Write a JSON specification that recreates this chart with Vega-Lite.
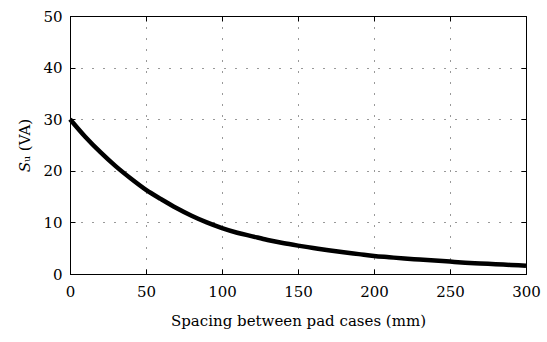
{
  "$schema": "https://vega.github.io/schema/vega-lite/v6.json",
  "width": 456,
  "height": 258,
  "autosize": {"type": "none"},
  "padding": {"left": 70, "top": 16, "right": 21, "bottom": 68},
  "background": "white",
  "config": {
    "view": {"stroke": "black", "strokeWidth": 1},
    "font": "DejaVu Serif",
    "axis": {
      "labelFont": "DejaVu Serif",
      "titleFont": "DejaVu Serif",
      "labelFontSize": 15,
      "titleFontSize": 15,
      "titleFontWeight": "normal",
      "labelColor": "black",
      "titleColor": "black",
      "domainColor": "black",
      "tickColor": "black",
      "tickSize": -5,
      "gridColor": "black",
      "gridDash": [1, 10],
      "gridOpacity": 0.8,
      "gridWidth": 1
    }
  },
  "data": {
    "values": [
      {"s": 0, "p": 30.0}, {"s": 10, "p": 26.6}, {"s": 20, "p": 23.6}, {"s": 30, "p": 20.9},
      {"s": 40, "p": 18.5}, {"s": 50, "p": 16.3}, {"s": 60, "p": 14.5}, {"s": 70, "p": 12.8},
      {"s": 80, "p": 11.3}, {"s": 90, "p": 10.0}, {"s": 100, "p": 8.9}, {"s": 110, "p": 8.0},
      {"s": 120, "p": 7.3}, {"s": 130, "p": 6.6}, {"s": 140, "p": 6.0}, {"s": 150, "p": 5.5},
      {"s": 160, "p": 5.05}, {"s": 170, "p": 4.6}, {"s": 180, "p": 4.2}, {"s": 190, "p": 3.85},
      {"s": 200, "p": 3.5}, {"s": 210, "p": 3.25}, {"s": 220, "p": 3.0}, {"s": 230, "p": 2.8},
      {"s": 240, "p": 2.6}, {"s": 250, "p": 2.4}, {"s": 260, "p": 2.2}, {"s": 270, "p": 2.05},
      {"s": 280, "p": 1.9}, {"s": 290, "p": 1.75}, {"s": 300, "p": 1.6}
    ]
  },
  "layer": [
    {
      "mark": {"type": "line", "color": "black", "strokeWidth": 4.5, "interpolate": "monotone"},
      "encoding": {
        "x": {"field": "s", "type": "quantitative", "scale": {"domain": [0, 300], "nice": false},
          "axis": {"values": [0, 50, 100, 150, 200, 250, 300], "title": "Spacing between pad cases (mm)", "labelPadding": 15, "titlePadding": 14, "labelFlush": false}},
        "y": {"field": "p", "type": "quantitative", "scale": {"domain": [0, 50], "nice": false},
          "axis": {"values": [0, 10, 20, 30, 40, 50], "title": "𝑆ᵤ (VA)", "labelPadding": 13, "titlePadding": 10, "labelFlush": false}}
      }
    },
    {
      "mark": {"type": "line", "color": "black", "strokeWidth": 0, "opacity": 0},
      "encoding": {
        "x": {"field": "s", "type": "quantitative", "scale": {"domain": [0, 300], "nice": false},
          "axis": {"orient": "top", "values": [0, 50, 100, 150, 200, 250, 300], "labels": false, "grid": false, "title": null, "domain": false}},
        "y": {"field": "p", "type": "quantitative", "scale": {"domain": [0, 50], "nice": false},
          "axis": {"orient": "right", "values": [0, 10, 20, 30, 40, 50], "labels": false, "grid": false, "title": null, "domain": false}}
      }
    }
  ],
  "resolve": {"scale": {"x": "independent", "y": "independent"}, "axis": {"x": "independent", "y": "independent"}}
}
